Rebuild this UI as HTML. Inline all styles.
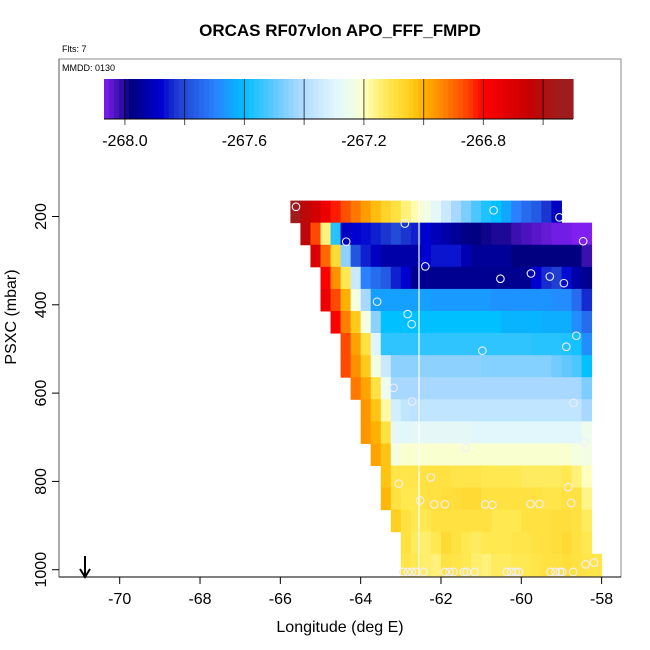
<!DOCTYPE html>
<html><head><meta charset="utf-8"><style>
html,body{margin:0;padding:0;background:#fff}
svg{display:block;font-family:"Liberation Sans",sans-serif}
</style></head><body>
<svg id="chart" width="650" height="650" viewBox="0 0 650 650">
<text x="340" y="36" text-anchor="middle" font-size="17" font-weight="bold">ORCAS RF07vlon APO_FFF_FMPD</text>
<text x="62" y="52" font-size="9">Flts: 7</text>
<rect x="59" y="59" width="562" height="518" fill="none" stroke="#888" stroke-width="1"/>
<text x="62" y="71" font-size="9">MMDD: 0130</text>
<g id="cbar"></g>
<g id="cells"></g>
<line x1="419" y1="201" x2="419" y2="577" stroke="#fff" stroke-width="1.2"/>
<g id="pts"></g>
<line x1="59" y1="577" x2="621" y2="577" stroke="#000"/>
<line x1="59" y1="59" x2="59" y2="577" stroke="#555"/>
<g id="xt"></g>
<g id="yt"></g>
<text x="340" y="632" text-anchor="middle" font-size="16">Longitude (deg E)</text>
<text transform="translate(16,317) rotate(-90)" text-anchor="middle" font-size="16">PSXC (mbar)</text>
<g>
<line x1="85" y1="556" x2="85" y2="576" stroke="#000" stroke-width="2"/>
<path d="M80,569 L85,577 L90,569" fill="none" stroke="#000" stroke-width="2"/>
</g>
</svg>
<script>
const xTicks=[-70,-68,-66,-64,-62,-60,-58];
const yTicks=[200,400,600,800,1000];
const cbarTicks=[-268.0,-267.6,-267.2,-266.8];
const cbarMin=-268.07, cbarMax=-266.5;
const lon0=-65.75, dLon=0.25, p0=164, dP=50;
// each row: [startColumn, values...]
const row0=[0,-266.55,-266.62,-266.68,-266.75,-266.82,-266.87,-266.92,-266.97,-267.02,-267.06,-267.1,-267.15,-267.19,-267.23,-267.28,-267.35,-267.42,-267.47,-267.52,-267.57,-267.6,-267.64,-267.7,-267.74,-267.77,-267.83,-267.9];
const row1=[1,-266.62,-266.86,-267.15,-267.56,-267.9,-267.88,-267.87,-267.85,-267.83,-267.8,-267.83,-267.85,-267.88,-267.91,-267.93,-267.95,-267.97,-267.98,-267.99,-268.0,-268.0,-268.02,-268.03,-268.04,-268.05,-268.06,-268.06,-268.07,-268.07];
const row2=[2,-266.7,-266.9,-267.08,-267.45,-267.78,-267.85,-267.9,-267.93,-267.93,-267.93,-267.93,-267.88,-267.86,-267.86,-267.86,-267.92,-267.95,-267.95,-267.95,-267.95,-267.98,-267.98,-267.98,-267.98,-267.98,-267.98,-267.98,-268.02];
const row3=[3,-266.8,-266.95,-267.12,-267.35,-267.7,-267.74,-267.77,-267.85,-267.88,-267.96,-267.96,-267.96,-267.96,-267.96,-267.96,-267.96,-267.96,-267.96,-267.96,-267.96,-267.96,-267.88,-267.84,-267.82,-267.87,-267.93,-267.96];
const row4=[3,-266.75,-266.86,-267.0,-267.22,-267.42,-267.65,-267.65,-267.65,-267.65,-267.65,-267.65,-267.66,-267.66,-267.66,-267.66,-267.66,-267.66,-267.67,-267.67,-267.67,-267.67,-267.67,-267.67,-267.68,-267.68,-267.74,-267.84];
const row5=[4,-266.8,-266.93,-267.04,-267.22,-267.45,-267.6,-267.6,-267.6,-267.6,-267.6,-267.6,-267.6,-267.6,-267.6,-267.6,-267.6,-267.6,-267.62,-267.62,-267.62,-267.62,-267.63,-267.63,-267.63,-267.68,-267.74];
const row6=[5,-266.86,-266.98,-267.1,-267.3,-267.55,-267.55,-267.55,-267.55,-267.55,-267.55,-267.55,-267.55,-267.55,-267.55,-267.55,-267.55,-267.55,-267.55,-267.55,-267.56,-267.56,-267.56,-267.57,-267.58,-267.68];
const row7=[5,-266.86,-266.95,-267.04,-267.22,-267.35,-267.45,-267.45,-267.45,-267.45,-267.45,-267.45,-267.45,-267.45,-267.45,-267.46,-267.46,-267.46,-267.46,-267.46,-267.46,-267.46,-267.48,-267.5,-267.52,-267.6];
const row8=[6,-266.92,-266.98,-267.1,-267.25,-267.42,-267.42,-267.42,-267.42,-267.42,-267.42,-267.42,-267.42,-267.42,-267.42,-267.42,-267.42,-267.42,-267.42,-267.42,-267.42,-267.42,-267.42,-267.42,-267.47];
const row9=[7,-266.96,-267.03,-267.18,-267.33,-267.37,-267.38,-267.37,-267.37,-267.37,-267.37,-267.37,-267.37,-267.37,-267.37,-267.37,-267.37,-267.37,-267.37,-267.37,-267.37,-267.37,-267.37,-267.42];
const row10=[7,-266.96,-267.0,-267.1,-267.28,-267.29,-267.28,-267.28,-267.28,-267.28,-267.28,-267.28,-267.29,-267.29,-267.29,-267.29,-267.29,-267.29,-267.29,-267.29,-267.29,-267.29,-267.29,-267.25];
const row11=[8,-266.98,-267.03,-267.22,-267.21,-267.21,-267.21,-267.21,-267.21,-267.21,-267.21,-267.21,-267.21,-267.21,-267.21,-267.21,-267.21,-267.21,-267.21,-267.21,-267.21,-267.22,-267.23];
const row12=[9,-267.03,-267.11,-267.11,-267.11,-267.1,-267.1,-267.1,-267.11,-267.11,-267.11,-267.12,-267.12,-267.12,-267.12,-267.13,-267.13,-267.13,-267.13,-267.12,-267.15,-267.2];
const row13=[9,-267.01,-267.1,-267.12,-267.12,-267.1,-267.1,-267.09,-267.09,-267.08,-267.08,-267.1,-267.1,-267.1,-267.1,-267.1,-267.1,-267.11,-267.11,-267.1,-267.1,-267.16];
const row14=[10,-267.05,-267.1,-267.12,-267.12,-267.1,-267.1,-267.1,-267.1,-267.1,-267.1,-267.12,-267.12,-267.12,-267.1,-267.1,-267.1,-267.09,-267.09,-267.1,-267.13];
const row15=[11,-267.1,-267.13,-267.14,-267.12,-267.08,-267.1,-267.12,-267.13,-267.12,-267.12,-267.12,-267.11,-267.11,-267.1,-267.1,-267.09,-267.08,-267.1,-267.12];
const row16=[11,-267.11,-267.12,-267.14,-267.15,-267.1,-267.11,-267.12,-267.14,-267.15,-267.13,-267.13,-267.12,-267.12,-267.11,-267.1,-267.1,-267.09,-267.1,-267.11,-267.11];
const rows=[row0,row1,row2,row3,row4,row5,row6,row7,row8,row9,row10,row11,row12,row13,row14,row15,row16];
const ptLon=[-65.61,-60.69,-59.05,-62.9,-64.36,-58.46,-62.39,-60.52,-59.76,-59.29,-58.94,-63.59,-62.83,-62.73,-58.63,-58.88,-60.97,-63.18,-62.72,-58.7,-58.43,-61.38,-62.25,-63.05,-58.83,-62.52,-62.17,-61.9,-60.9,-60.72,-59.77,-59.55,-58.76,-58.4,-58.19,-62.94,-62.83,-62.73,-62.62,-62.43,-61.9,-61.79,-61.69,-61.43,-61.36,-61.16,-60.36,-60.25,-60.14,-60.06,-59.27,-59.15,-59.04,-58.98,-58.71];
const ptP=[178,186,202,216,257,256,313,341,329,336,351,393,421,444,470,495,504,588,619,622,711,724,791,805,813,843,852,852,852,853,851,851,849,988,984,1005,1005,1005,1005,1005,1005,1005,1005,1005,1005,1005,1005,1005,1005,1005,1005,1005,1005,1005,1005];

const stops=[[-268.07,[128,32,240]],[-268.02,[60,16,176]],[-267.98,[0,0,128]],[-267.88,[0,0,208]],[-267.82,[32,64,208]],[-267.7,[42,128,255]],[-267.6,[0,192,255]],[-267.5,[96,200,255]],[-267.42,[168,216,255]],[-267.3,[224,246,255]],[-267.22,[244,255,224]],[-267.2,[255,255,192]],[-267.12,[255,232,80]],[-267.05,[255,208,32]],[-267.0,[255,176,0]],[-266.95,[255,144,0]],[-266.85,[255,64,0]],[-266.8,[255,0,0]],[-266.65,[200,0,0]],[-266.55,[160,28,28]]];
function col(v){
  if(v<=stops[0][0])return 'rgb('+stops[0][1]+')';
  for(let i=1;i<stops.length;i++){if(v<=stops[i][0]){const a=stops[i-1],b=stops[i],t=(v-a[0])/(b[0]-a[0]);
    return 'rgb('+a[1].map((c,k)=>Math.round(c+(b[1][k]-c)*t)).join(',')+')';}}
  return 'rgb('+stops[stops.length-1][1]+')';
}
const X=lon=>119.7+(lon+70)*40.16;
const Y=p=>216.5+(p-200)*0.4415;
const CB=v=>104+(v-cbarMin)/(cbarMax-cbarMin)*469;
const NS='http://www.w3.org/2000/svg';
function mk(t,a,parent){const e=document.createElementNS(NS,t);for(const k in a)e.setAttribute(k,a[k]);parent.appendChild(e);return e;}
const cb=document.getElementById('cbar');
const nSteps=94;
for(let i=0;i<nSteps;i++){const v0=cbarMin+(cbarMax-cbarMin)*i/nSteps,v1=cbarMin+(cbarMax-cbarMin)*(i+1)/nSteps;
  const r=mk('rect',{x:CB(v0),y:79,width:CB(v1)-CB(v0)+0.6,height:40,fill:col((v0+v1)/2)},cb);
  
  
}
mk('line',{x1:104,y1:119,x2:573,y2:119,stroke:'#000'},cb);
for(let v=-268.0;v<cbarMax;v+=0.2){const l=mk('line',{x1:CB(v),y1:79,x2:CB(v),y2:125,stroke:'#000','stroke-opacity':0.7},cb);
  
  }
cbarTicks.forEach(v=>{const t=mk('text',{x:CB(v),y:146,'text-anchor':'middle','font-size':16},cb);t.textContent=v.toFixed(1);
  
  });
const cg=document.getElementById('cells');
rows.forEach((r,ri)=>{const start=r[0];
  for(let j=1;j<r.length;j++){const c=start+j-1;const la=lon0+c*dLon,lb=la+dLon;
    const pa=p0+ri*dP,pb=Math.min(pa+dP,1016);
    const e=mk('rect',{x:X(la),y:Y(pa),width:X(lb)-X(la)+0.5,height:Y(pb)-Y(pa)+0.5,fill:col(r[j])},cg);
    
    }});
const pg=document.getElementById('pts');
ptLon.forEach((lo,i)=>{const c=mk('circle',{cx:X(lo),cy:Y(ptP[i]),r:3.8,fill:'none',stroke:'#eef','stroke-width':1.1},pg);
  
  });
const xg=document.getElementById('xt');
xTicks.forEach(v=>{mk('line',{x1:X(v),y1:577,x2:X(v),y2:584,stroke:'#000'},xg);
  const t=mk('text',{x:X(v),y:604,'text-anchor':'middle','font-size':16},xg);t.textContent=v;
  
  });
const yg=document.getElementById('yt');
yTicks.forEach(v=>{mk('line',{x1:52,y1:Y(v),x2:59,y2:Y(v),stroke:'#000'},yg);
  const t=mk('text',{transform:'translate(46,'+Y(v)+') rotate(-90)','text-anchor':'middle','font-size':16},yg);t.textContent=v;
  
  });
</script>
</body></html>
